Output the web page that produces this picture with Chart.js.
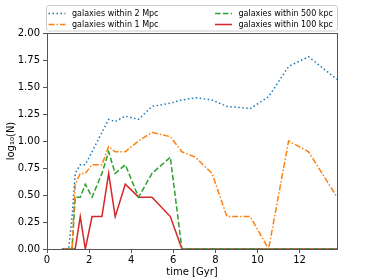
<!DOCTYPE html>
<html>
<head>
<meta charset="utf-8">
<script src="https://cdn.jsdelivr.net/npm/chart.js@4"></script>
<style>
  html, body { margin: 0; padding: 0; background: #fff; }
  #wrap { width: 374px; height: 280px; }
</style>
</head>
<body>
<div id="wrap"><canvas id="my-chart" width="374" height="280"></canvas></div>
<script>
// snapshot times in Gyr
let times = [0.71, 1.03, 1.19, 1.34, 1.58, 1.82, 2.14, 2.61, 2.93, 3.24, 3.72, 4.35, 4.99, 5.86, 6.41, 7.05, 7.84, 8.55, 9.66, 10.53, 11.48, 12.43, 13.78];

// log10(N) for each radius
let within2Mpc = [0, 0, 0.30, 0.70, 0.78, 0.78, 0.90, 1.08, 1.20, 1.18, 1.23, 1.20, 1.32, 1.35, 1.38, 1.40, 1.38, 1.32, 1.30, 1.41, 1.69, 1.78, 1.57];
let within1Mpc = [0, 0, 0, 0.60, 0.70, 0.70, 0.78, 0.78, 0.95, 0.90, 0.90, 1.00, 1.08, 1.04, 0.90, 0.85, 0.70, 0.30, 0.30, 0, 1.00, 0.90, 0.48];
let within500kpc = [0, 0, 0, 0.48, 0.48, 0.60, 0.48, 0.70, 0.90, 0.70, 0.78, 0.48, 0.70, 0.85, 0, 0, 0, 0, 0, 0, 0, 0, 0];
let within100kpc = [0, 0, 0, 0, 0.30, 0, 0.30, 0.30, 0.70, 0.30, 0.60, 0.48, 0.48, 0.30, 0, 0, 0, 0, 0, 0, 0, 0, 0];

let seriesLabels = ["galaxies within 2 Mpc", "galaxies within 1 Mpc", "galaxies within 500 kpc", "galaxies within 100 kpc"];

function pts(vals) {
  return times.map((t, i) => ({ x: t, y: vals[i] }));
}

const font = "'DejaVu Sans', sans-serif";
const spine = "#555";

// box round the plot + matplotlib style legend in two columns
const framePlugin = {
  id: "frame",
  afterDraw(chart) {
    const ctx = chart.ctx;
    const a = chart.chartArea;
    ctx.save();
    ctx.strokeStyle = spine;
    ctx.lineWidth = 1;
    ctx.strokeRect(Math.round(a.left) + 0.5, Math.round(a.top) + 0.5, Math.round(a.right - a.left), Math.round(a.bottom - a.top));

    // legend
    const x0 = 46.5, y0 = 5.5, w = 291, h = 25.5;
    ctx.fillStyle = "rgba(255,255,255,0.8)";
    ctx.strokeStyle = "#cccccc";
    ctx.beginPath();
    ctx.roundRect(x0, y0, w, h, 2);
    ctx.fill();
    ctx.stroke();

    const cols = [48.5, 215];
    const rows = [13.5, 24.5];
    ctx.font = "8px " + font;
    ctx.textBaseline = "middle";
    chart.data.datasets.forEach((ds, i) => {
      const cx = cols[Math.floor(i / 2)];
      const cy = rows[i % 2];
      ctx.strokeStyle = ds.borderColor;
      ctx.lineWidth = ds.borderWidth;
      ctx.setLineDash(ds.borderDash || []);
      ctx.beginPath();
      ctx.moveTo(cx, cy);
      ctx.lineTo(cx + 17, cy);
      ctx.stroke();
      ctx.setLineDash([]);
      ctx.fillStyle = "#000";
      ctx.fillText(ds.label, cx + 23.5, cy);
    });
    ctx.restore();
  },
};

let myChart = document.getElementById("my-chart").getContext("2d");

let timeChart = new Chart(myChart, {
  type: "line",
  data: {
    datasets: [
      {
        label: seriesLabels[0],
        data: pts(within2Mpc),
        borderColor: "#1f77b4",
        borderWidth: 1.5,
        borderDash: [1.5, 2.5],
      },
      {
        label: seriesLabels[1],
        data: pts(within1Mpc),
        borderColor: "#ff7f0e",
        borderWidth: 1.5,
        borderDash: [6, 2, 1.5, 2],
      },
      {
        label: seriesLabels[2],
        data: pts(within500kpc),
        borderColor: "#2ca02c",
        borderWidth: 1.5,
        borderDash: [5.5, 2.4],
      },
      {
        label: seriesLabels[3],
        data: pts(within100kpc),
        borderColor: "#d62728",
        borderWidth: 1.5,
      },
    ],
  },
  options: {
    responsive: false,
    animation: false,
    events: [],
    elements: { point: { radius: 0 }, line: { tension: 0 } },
    layout: { padding: { top: 33, right: 37, left: 0, bottom: 0 } },
    plugins: {
      legend: { display: false },
      tooltip: { enabled: false },
    },
    scales: {
      x: {
        type: "linear",
        min: 0,
        max: 13.78,
        afterFit(scale) { scale.height = 31; },
        ticks: {
          stepSize: 2,
          includeBounds: false,
          padding: 1,
          color: "#000",
          font: { family: font, size: 10 },
          maxRotation: 0,
        },
        grid: { drawOnChartArea: false, drawTicks: true, tickLength: 4, color: spine },
        border: { display: true, color: spine, width: 1 },
        title: {
          display: true,
          text: "time [Gyr]",
          color: "#000",
          font: { family: font, size: 10 },
          padding: { top: 0, bottom: 2 },
        },
      },
      y: {
        min: 0,
        max: 2,
        afterFit(scale) { scale.width = 47; },
        ticks: {
          stepSize: 0.25,
          padding: 3,
          color: "#000",
          font: { family: font, size: 10 },
          callback: (v) => v.toFixed(2),
        },
        grid: { drawOnChartArea: false, drawTicks: true, tickLength: 4, color: spine },
        border: { display: true, color: spine, width: 1 },
        title: {
          display: true,
          text: "log\u2081\u2080(N)",
          color: "#000",
          font: { family: font, size: 10 },
          padding: { top: 5, bottom: 0 },
        },
      },
    },
  },
  plugins: [framePlugin],
});
</script>
</body>
</html>
